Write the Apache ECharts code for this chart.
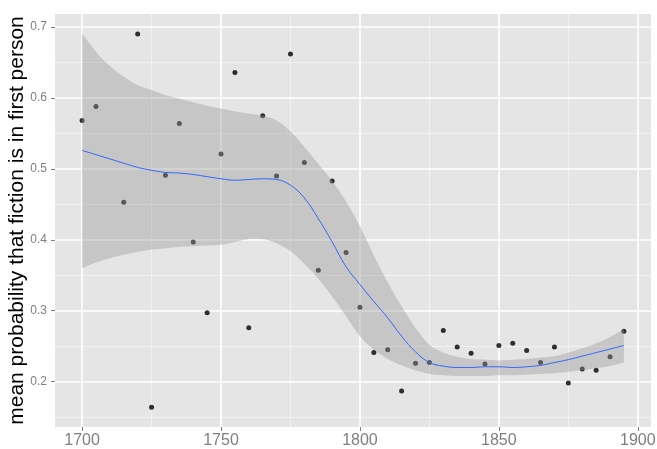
<!DOCTYPE html>
<html>
<head>
<meta charset="utf-8">
<script src="https://cdn.jsdelivr.net/npm/echarts@6/dist/echarts.min.js"></script>
<style>
  html, body { margin: 0; padding: 0; background: #fff; }
  #chart { width: 657px; height: 449px; }
</style>
</head>
<body>
<div id="chart"></div>
<script>
// decades sampled every 5 years (1710 has no point)
const years = [1700, 1705, 1715, 1720, 1725, 1730, 1735, 1740, 1745, 1750,
  1755, 1760, 1765, 1770, 1775, 1780, 1785, 1790, 1795, 1800,
  1805, 1810, 1815, 1820, 1825, 1830, 1835, 1840, 1845, 1850,
  1855, 1860, 1865, 1870, 1875, 1880, 1885, 1890, 1895]
const firstPerson = [0.568, 0.588, 0.453, 0.690, 0.164, 0.491, 0.564, 0.397, 0.297, 0.521,
  0.636, 0.276, 0.575, 0.490, 0.662, 0.509, 0.357, 0.483, 0.382, 0.305,
  0.241, 0.245, 0.187, 0.226, 0.227, 0.272, 0.249, 0.240, 0.225, 0.251,
  0.254, 0.244, 0.227, 0.249, 0.198, 0.218, 0.216, 0.235, 0.271]

// loess fit + confidence band
const fitYears = [1700, 1705, 1710, 1715, 1720, 1725, 1730, 1735, 1740, 1745,
  1750, 1755, 1760, 1765, 1770, 1775, 1780, 1785, 1790, 1795,
  1800, 1805, 1810, 1815, 1820, 1825, 1830, 1835, 1840, 1845,
  1850, 1855, 1860, 1865, 1870, 1875, 1880, 1885, 1890, 1895]
const fit = [0.526, 0.520, 0.514, 0.508, 0.502, 0.498, 0.495, 0.494, 0.492, 0.489,
  0.486, 0.484, 0.485, 0.486, 0.485, 0.477, 0.459, 0.430, 0.397, 0.362,
  0.337, 0.313, 0.290, 0.264, 0.242, 0.227, 0.222, 0.220, 0.220, 0.221,
  0.221, 0.220, 0.221, 0.223, 0.227, 0.231, 0.236, 0.241, 0.246, 0.251]
const fitUpper = [0.691, 0.665, 0.645, 0.630, 0.618, 0.611, 0.604, 0.599, 0.594, 0.589,
  0.585, 0.581, 0.578, 0.575, 0.568, 0.553, 0.531, 0.507, 0.483, 0.454,
  0.419, 0.378, 0.340, 0.306, 0.276, 0.252, 0.241, 0.235, 0.232, 0.231,
  0.230, 0.231, 0.232, 0.234, 0.236, 0.241, 0.247, 0.254, 0.263, 0.274]
const fitLower = [0.360, 0.368, 0.374, 0.379, 0.383, 0.386, 0.388, 0.390, 0.391, 0.392,
  0.393, 0.397, 0.401, 0.401, 0.395, 0.384, 0.366, 0.345, 0.320, 0.292,
  0.264, 0.245, 0.232, 0.223, 0.216, 0.211, 0.209, 0.208, 0.208, 0.208,
  0.209, 0.209, 0.210, 0.211, 0.212, 0.214, 0.216, 0.219, 0.222, 0.227]

const xMajor = [1700, 1750, 1800, 1850, 1900]
const xMinor = [1725, 1775, 1825, 1875]
const yMajor = [0.2, 0.3, 0.4, 0.5, 0.6, 0.7]
const yMinor = [0.15, 0.25, 0.35, 0.45, 0.55, 0.65]

const X_MIN = 1690.25, X_MAX = 1904.75
const Y_MIN = 0.1361, Y_MAX = 0.7183

const chart = echarts.init(document.getElementById('chart'))

const tickLabel = { color: '#7f7f7f', fontFamily: 'Liberation Sans' }

function minorAxis(values, extra) {
  return Object.assign({
    type: 'value',
    axisLine: { show: false },
    axisTick: { show: false, customValues: values },
    axisLabel: { show: false },
    splitLine: { show: true, lineStyle: { color: '#f2f2f2', width: 1 } },
  }, extra)
}

// smooth a pixel polyline (catmull-rom) so the band edges aren't kinked
function smoothPts(pts, steps) {
  const out = []
  for (let i = 0; i < pts.length - 1; i++) {
    const p0 = pts[Math.max(i - 1, 0)], p1 = pts[i], p2 = pts[i + 1], p3 = pts[Math.min(i + 2, pts.length - 1)]
    for (let s = 0; s < steps; s++) {
      const t = s / steps, t2 = t * t, t3 = t2 * t
      out.push([0, 1].map(k => 0.5 * (2 * p1[k] + (-p0[k] + p2[k]) * t +
        (2 * p0[k] - 5 * p1[k] + 4 * p2[k] - p3[k]) * t2 +
        (-p0[k] + 3 * p1[k] - 3 * p2[k] + p3[k]) * t3)))
    }
  }
  out.push(pts[pts.length - 1])
  return out
}

chart.setOption({
  animation: false,
  grid: {
    left: 55, right: 6, top: 14, bottom: 22,
    outerBoundsMode: 'none',
    show: true, backgroundColor: '#e5e5e5', borderWidth: 0,
  },
  xAxis: [
    {
      type: 'value', min: X_MIN, max: X_MAX,
      axisLine: { show: false },
      axisTick: { show: true, length: 4, customValues: xMajor, lineStyle: { color: '#7f7f7f' } },
      axisLabel: { ...tickLabel, fontSize: 16, margin: 6, customValues: xMajor, formatter: v => String(v) },
      splitLine: { show: true, lineStyle: { color: '#ffffff', width: 1.6 } },
      z: 2,
    },
    minorAxis(xMinor, { min: X_MIN, max: X_MAX, z: 1 }),
  ],
  yAxis: [
    {
      type: 'value', min: Y_MIN, max: Y_MAX,
      axisLine: { show: false },
      axisTick: { show: true, length: 4, customValues: yMajor, lineStyle: { color: '#7f7f7f' } },
      axisLabel: {
        ...tickLabel, fontSize: 12, margin: 8, customValues: yMajor,
        formatter: v => v.toFixed(1),
      },
      splitLine: { show: true, lineStyle: { color: '#ffffff', width: 1.6 } },
      name: 'mean probability that fiction is in first person',
      nameLocation: 'middle',
      nameGap: 27,
      nameMoveOverlap: false,
      nameTextStyle: { color: '#000', fontSize: 21, fontFamily: 'Liberation Sans' },
      z: 2,
    },
    minorAxis(yMinor, { min: Y_MIN, max: Y_MAX, z: 1 }),
  ],
  series: [
    {
      type: 'scatter',
      data: years.map((y, i) => [y, firstPerson[i]]),
      symbolSize: 5,
      itemStyle: { color: '#000' },
      z: 3,
    },
    {
      type: 'custom',
      data: fitYears.map((y, i) => [y, fitLower[i], fitUpper[i]]),
      encode: { x: 0, y: [1, 2] },
      renderItem(params, api) {
        if (params.dataIndex !== 0) return null
        const up = smoothPts(fitYears.map((y, i) => api.coord([y, fitUpper[i]])), 6)
        const lo = smoothPts(fitYears.map((y, i) => api.coord([y, fitLower[i]])), 6)
        return {
          type: 'polygon',
          shape: { points: up.concat(lo.reverse()) },
          style: { fill: 'rgba(153,153,153,0.4)', stroke: null },
        }
      },
      silent: true,
      z: 4,
    },
    {
      type: 'line',
      data: fitYears.map((y, i) => [y, fit[i]]),
      smooth: 0.4,
      showSymbol: false,
      lineStyle: { color: '#3366ff', width: 1 },
      z: 5,
    },
  ],
})
</script>
</body>
</html>
